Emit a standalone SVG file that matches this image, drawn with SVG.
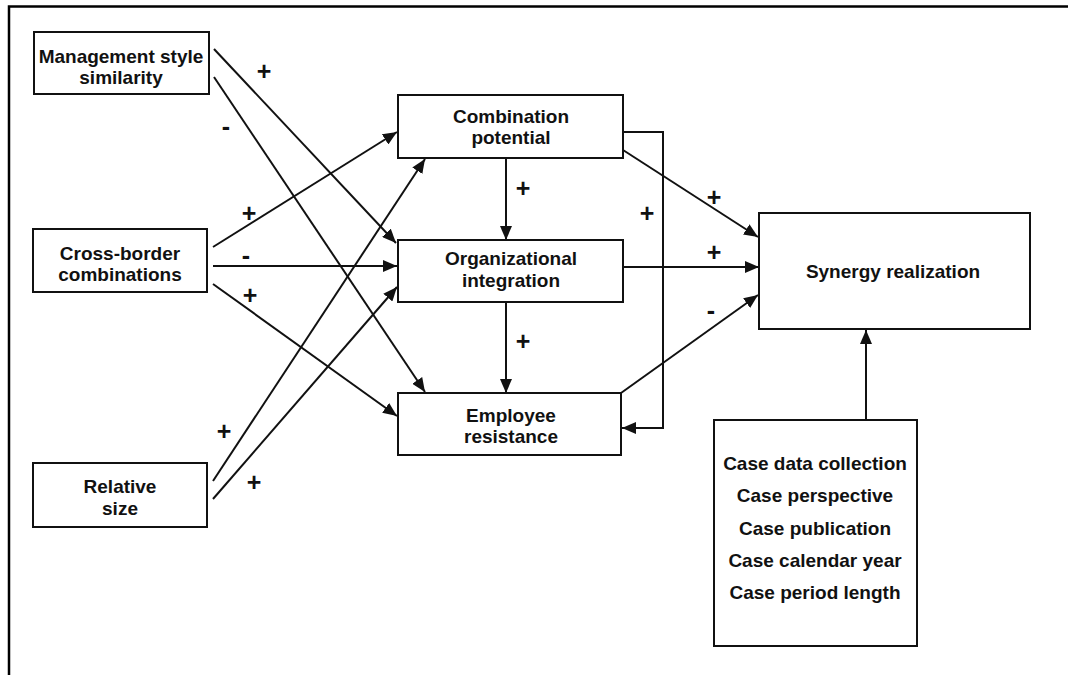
<svg xmlns="http://www.w3.org/2000/svg" width="1068" height="675" viewBox="0 0 1068 675">
<style>
.box{fill:#fff;stroke:#111;stroke-width:2}
.t{font-family:"Liberation Sans",Arial,sans-serif;font-weight:bold;font-size:19px;fill:#111;text-anchor:middle}
.ln{fill:none;stroke:#111;stroke-width:2;marker-end:url(#ah)}
.s{font-family:"Liberation Sans",Arial,sans-serif;font-weight:bold;font-size:25px;fill:#111;text-anchor:middle}
</style>
<defs>
<marker id="ah" markerUnits="userSpaceOnUse" markerWidth="15" markerHeight="12" refX="14" refY="6" orient="auto">
<path d="M0,0 L14,6 L0,12 z" fill="#111"/>
</marker>
</defs>
<rect width="1068" height="675" fill="#fff"/>
<path d="M9,675 V6.5 H1068" fill="none" stroke="#000" stroke-width="2.5"/>

<g id="connectors">
<line class="ln" x1="214" y1="49" x2="396" y2="243"/>
<line class="ln" x1="214" y1="77" x2="425" y2="392"/>
<line class="ln" x1="213" y1="247" x2="397" y2="132"/>
<line class="ln" x1="213" y1="266" x2="397" y2="266"/>
<line class="ln" x1="213" y1="284" x2="397" y2="416"/>
<line class="ln" x1="213" y1="481" x2="425" y2="159"/>
<line class="ln" x1="213" y1="499" x2="397" y2="287"/>
<line class="ln" x1="506" y1="158" x2="506" y2="240"/>
<line class="ln" x1="506" y1="302" x2="506" y2="393"/>
<path class="ln" d="M623,132 H663 V428 H622"/>
<line class="ln" x1="623" y1="150" x2="758" y2="237"/>
<line class="ln" x1="623" y1="267" x2="759" y2="267"/>
<line class="ln" x1="621" y1="393" x2="758" y2="295"/>
<line class="ln" x1="866" y1="420" x2="866" y2="330"/>
<text class="s" x="264" y="80">+</text>
<text class="s" x="226" y="135">-</text>
<text class="s" x="249" y="222">+</text>
<text class="s" x="246" y="264">-</text>
<text class="s" x="250" y="304">+</text>
<text class="s" x="224" y="440">+</text>
<text class="s" x="254" y="491">+</text>
<text class="s" x="523" y="197">+</text>
<text class="s" x="523" y="350">+</text>
<text class="s" x="647" y="222">+</text>
<text class="s" x="714" y="206">+</text>
<text class="s" x="714" y="261">+</text>
<text class="s" x="711" y="319">-</text>
</g>

<g id="mgmt">
<rect class="box" x="34" y="32" width="175" height="62"/>
<text class="t" x="121" y="63">Management style</text>
<text class="t" x="121" y="84">similarity</text>
</g>
<g id="cross">
<rect class="box" x="33" y="229" width="174" height="63"/>
<text class="t" x="120" y="260">Cross-border</text>
<text class="t" x="120" y="281">combinations</text>
</g>
<g id="relsize">
<rect class="box" x="33" y="463" width="174" height="64"/>
<text class="t" x="120" y="493">Relative</text>
<text class="t" x="120" y="515">size</text>
</g>
<g id="combpot">
<rect class="box" x="398" y="95" width="225" height="63"/>
<text class="t" x="511" y="123">Combination</text>
<text class="t" x="511" y="144">potential</text>
</g>
<g id="orgint">
<rect class="box" x="398" y="240" width="225" height="62"/>
<text class="t" x="511" y="265">Organizational</text>
<text class="t" x="511" y="287">integration</text>
</g>
<g id="empres">
<rect class="box" x="398" y="393" width="223" height="62"/>
<text class="t" x="511" y="422">Employee</text>
<text class="t" x="511" y="443">resistance</text>
</g>
<g id="synergy">
<rect class="box" x="759" y="213" width="271" height="116"/>
<text class="t" x="893" y="278">Synergy realization</text>
</g>
<g id="cases">
<rect class="box" x="714" y="420" width="203" height="226"/>
<text class="t" x="815" y="470">Case data collection</text>
<text class="t" x="815" y="502">Case perspective</text>
<text class="t" x="815" y="535">Case publication</text>
<text class="t" x="815" y="567">Case calendar year</text>
<text class="t" x="815" y="599">Case period length</text>
</g>
</svg>
